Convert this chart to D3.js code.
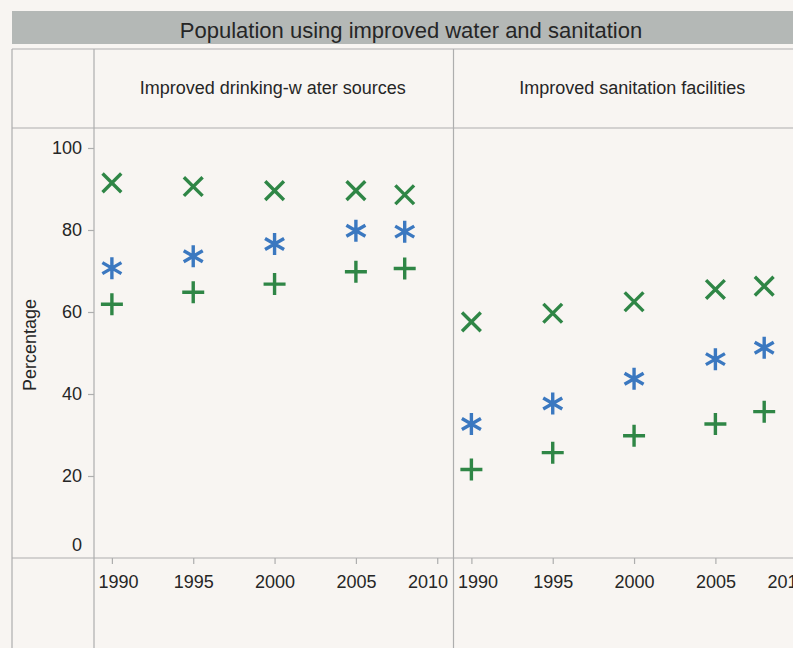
<!DOCTYPE html>
<html><head><meta charset="utf-8">
<script src="https://cdn.jsdelivr.net/npm/d3@7"></script>
<style>body{margin:0;background:#f8f5f2;}svg{display:block;font-family:"Liberation Sans",Arial,sans-serif;}</style>
</head><body><svg id="c" width="793" height="648"></svg>
<script>
const title = "Population using improved water and sanitation";
const panels = ["Improved drinking-w ater sources", "Improved sanitation facilities"];
const years = [1990, 1995, 2000, 2005, 2008];
const xTicks = [1990, 1995, 2000, 2005, 2010];
const yTicks = [0, 20, 40, 60, 80, 100];
const yLabel = "Percentage";
// series per panel: urban (x), total (asterisk), rural (plus)
const waterUrban = [91.5, 90.6, 89.6, 89.6, 88.6];
const waterTotal = [70.7, 73.6, 76.6, 79.8, 79.6];
const waterRural = [61.9, 64.8, 66.8, 69.8, 70.6];
const sanUrban = [57.6, 59.7, 62.5, 65.5, 66.3];
const sanTotal = [32.7, 37.7, 43.7, 48.5, 51.3];
const sanRural = [21.6, 25.7, 29.8, 32.7, 35.7];
const seriesNames = ["Urban", "Total", "Rural"];
const seriesColors = ["#2f8646", "#3b78c0", "#2f8646"];
const seriesShapes = ["x", "asterisk", "plus"];

const panelData = [[waterUrban, waterTotal, waterRural], [sanUrban, sanTotal, sanRural]];

const svg = d3.select("#c");
const lineCol = "#aeaeae";
const txtCol = "#262626";
// title band
svg.append("rect").attr("x", 12).attr("y", 11).attr("width", 800).attr("height", 33).attr("fill", "#b4b8b6");
svg.append("text").attr("x", 411).attr("y", 37.5).attr("text-anchor", "middle")
  .attr("font-size", 22).attr("fill", txtCol).text(title);

const frameTop = 49, headBottom = 128, plotBottom = 558, leftEdge = 12, axisX = 94, panelW = 359.5;
const y = d3.scaleLinear().domain([0, 100]).range([plotBottom, 148]);

// grid frame
const g = svg.append("g").attr("stroke", lineCol).attr("stroke-width", 1.2).attr("fill", "none");
g.append("line").attr("x1", leftEdge).attr("x2", 800).attr("y1", frameTop).attr("y2", frameTop);
g.append("line").attr("x1", leftEdge).attr("x2", 800).attr("y1", headBottom).attr("y2", headBottom);
g.append("line").attr("x1", leftEdge).attr("x2", 800).attr("y1", plotBottom).attr("y2", plotBottom);
g.append("line").attr("x1", leftEdge).attr("x2", leftEdge).attr("y1", frameTop).attr("y2", 648);
[0, 1, 2].forEach(i => {
  g.append("line").attr("x1", axisX + i * panelW).attr("x2", axisX + i * panelW).attr("y1", frameTop).attr("y2", 648);
});

// y axis
const yAxis = d3.axisLeft(y).tickValues(yTicks).tickSize(6).tickPadding(6);
const ya = svg.append("g").attr("transform", `translate(${axisX},0)`).call(yAxis);
ya.select(".domain").remove();
ya.selectAll(".tick line").attr("stroke", lineCol).attr("stroke-width", 1.2);
ya.selectAll(".tick text").attr("font-size", 18).attr("fill", txtCol).attr("font-family", "Liberation Sans, Arial, sans-serif");
ya.selectAll(".tick").filter(d => d === 0).select("text").attr("dy", "-0.4em");
ya.selectAll(".tick").filter(d => d === 0).select("line").remove();

svg.append("text").attr("transform", "translate(36,345) rotate(-90)").attr("text-anchor", "middle")
  .attr("font-size", 18).attr("fill", txtCol).text(yLabel);

function shapePath(s, r) {
  if (s === "x") { const a = r * 0.72; return `M${-a},${-a}L${a},${a}M${-a},${a}L${a},${-a}`; }
  if (s === "plus") return `M${-r},0L${r},0M0,${-r}L0,${r}`;
  const c = r * Math.cos(Math.PI / 6), sn = r * Math.sin(Math.PI / 6);
  return `M0,${-r}L0,${r}M${-c},${-sn}L${c},${sn}M${-c},${sn}L${c},${-sn}`;
}

panels.forEach((name, p) => {
  const x0 = axisX + p * panelW;
  const x = d3.scaleLinear().domain([1988.9, 2011]).range([x0, x0 + panelW]);
  svg.append("text").attr("x", x0 + panelW / 2 - 1).attr("y", 94).attr("text-anchor", "middle")
    .attr("font-size", 18).attr("fill", txtCol).text(name);
  const xa = svg.append("g").attr("transform", `translate(0,${plotBottom})`)
    .call(d3.axisBottom(x).tickValues(xTicks).tickFormat(d3.format("d")).tickSize(6).tickPadding(11));
  xa.select(".domain").remove();
  xa.selectAll(".tick line").attr("stroke", lineCol).attr("stroke-width", 1.2);
  xa.selectAll(".tick text").attr("font-size", 18).attr("fill", txtCol).attr("font-family", "Liberation Sans, Arial, sans-serif");
  // keep edge labels inside the panel, as in the reference
  xa.selectAll(".tick").each(function(d) {
    const t = d3.select(this).select("text");
    const w = t.node().getComputedTextLength();
    const cx = x(d);
    let shift = 0;
    if (cx - w / 2 < x0 + 4) shift = x0 + 4 - (cx - w / 2);
    if (cx + w / 2 > x0 + panelW - 6) shift = (x0 + panelW - 6) - (cx + w / 2);
    t.attr("dx", shift);
  });
  panelData[p].forEach((vals, si) => {
    svg.append("g").selectAll("path").data(vals).join("path")
      .attr("transform", (v, i) => `translate(${x(years[i])},${y(v)})`)
      .attr("d", shapePath(seriesShapes[si], si === 0 ? 13 : 11))
      .attr("stroke", seriesColors[si]).attr("stroke-width", 3.4).attr("fill", "none");
  });
});
</script></body></html>
